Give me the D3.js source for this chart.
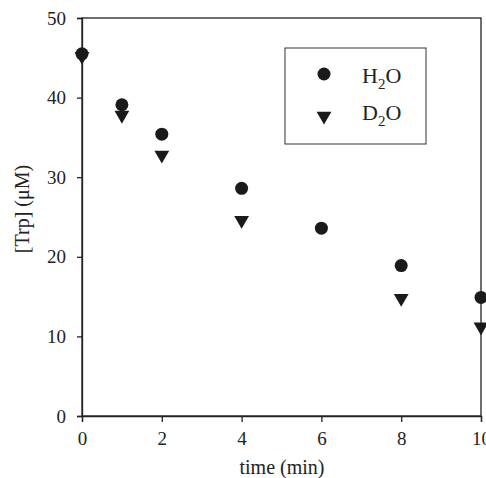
<!DOCTYPE html>
<html>
<head>
<meta charset="utf-8">
<script src="https://cdn.jsdelivr.net/npm/d3@7"></script>
<style>
  body { margin: 0; background: #fff; }
  text { font-family: "Liberation Serif", "Times New Roman", serif; fill: #222; }
</style>
</head>
<body>
<svg id="chart" width="486" height="478"></svg>
<script>
// values
const timeH2O = [0, 1, 2, 4, 6, 8, 10]
const trpH2O = [45.5, 39.1, 35.4, 28.6, 23.6, 18.9, 14.9]
const timeD2O = [0, 1, 2, 4, 8, 10]
const trpD2O = [45.2, 37.8, 32.8, 24.6, 14.8, 11.2]
const xTicks = [0, 2, 4, 6, 8, 10]
const yTicks = [0, 10, 20, 30, 40, 50]

const svg = d3.select("#chart")
const m = {left: 82, top: 18, right: 481, bottom: 416}

const x = d3.scaleLinear().domain([0, 10]).range([m.left, m.right])
const y = d3.scaleLinear().domain([0, 50]).range([m.bottom, m.top])

// frame
svg.append("rect")
  .attr("x", m.left).attr("y", m.top)
  .attr("width", m.right - m.left).attr("height", m.bottom - m.top)
  .attr("fill", "none").attr("stroke", "#222").attr("stroke-width", 1.3)

let xAxis = svg.append("g").attr("transform", `translate(0,${m.bottom})`)
  .call(d3.axisBottom(x).tickValues(xTicks).tickSize(6).tickPadding(10).tickFormat(d3.format("d")))
let yAxis = svg.append("g").attr("transform", `translate(${m.left},0)`)
  .call(d3.axisLeft(y).tickValues(yTicks).tickSize(5).tickPadding(11).tickFormat(d3.format("d")))

;[xAxis, yAxis].forEach(a => {
  a.select(".domain").attr("stroke", "#222").attr("stroke-width", 1.3)
  a.selectAll(".tick line").attr("stroke", "#222").attr("stroke-width", 1.3)
  a.selectAll("text").style("font-size", "19px").attr("fill", "#222")
    .style("font-family", '"Liberation Serif", serif')
})

// axis titles
svg.append("text").attr("x", 282).attr("y", 474)
  .attr("text-anchor", "middle").style("font-size", "20px").text("time (min)")
svg.append("text").attr("transform", "translate(29,209) rotate(-90)")
  .attr("text-anchor", "middle").style("font-size", "20px").text("[Trp] (μM)")

const tri = d3.symbol().type(d3.symbolTriangle).size(95)

// data marks
svg.append("g").selectAll("circle").data(timeH2O).join("circle")
  .attr("cx", d => x(d)).attr("cy", (d, i) => y(trpH2O[i]))
  .attr("r", 6.5).attr("fill", "#1a1a1a")

svg.append("g").selectAll("path").data(timeD2O).join("path")
  .attr("d", tri)
  .attr("transform", (d, i) => `translate(${x(d)},${y(trpD2O[i])}) rotate(180)`)
  .attr("fill", "#1a1a1a")

// legend
const lg = svg.append("g")
lg.append("rect").attr("x", 285).attr("y", 48).attr("width", 141).attr("height", 96)
  .attr("fill", "#fff").attr("stroke", "#333").attr("stroke-width", 1)
lg.append("circle").attr("cx", 324).attr("cy", 74).attr("r", 6.5).attr("fill", "#1a1a1a")
lg.append("path").attr("d", tri).attr("transform", "translate(324,116) rotate(180)").attr("fill", "#1a1a1a")

const lab = [["H", "2", "O", 83], ["D", "2", "O", 120]]
lab.forEach(l => {
  let t = lg.append("text").attr("x", 362).attr("y", l[3]).style("font-size", "22px")
  t.append("tspan").text(l[0])
  t.append("tspan").attr("dy", 6).style("font-size", "15px").text(l[1])
  t.append("tspan").attr("dy", -6).text(l[2])
})
</script>
</body>
</html>
